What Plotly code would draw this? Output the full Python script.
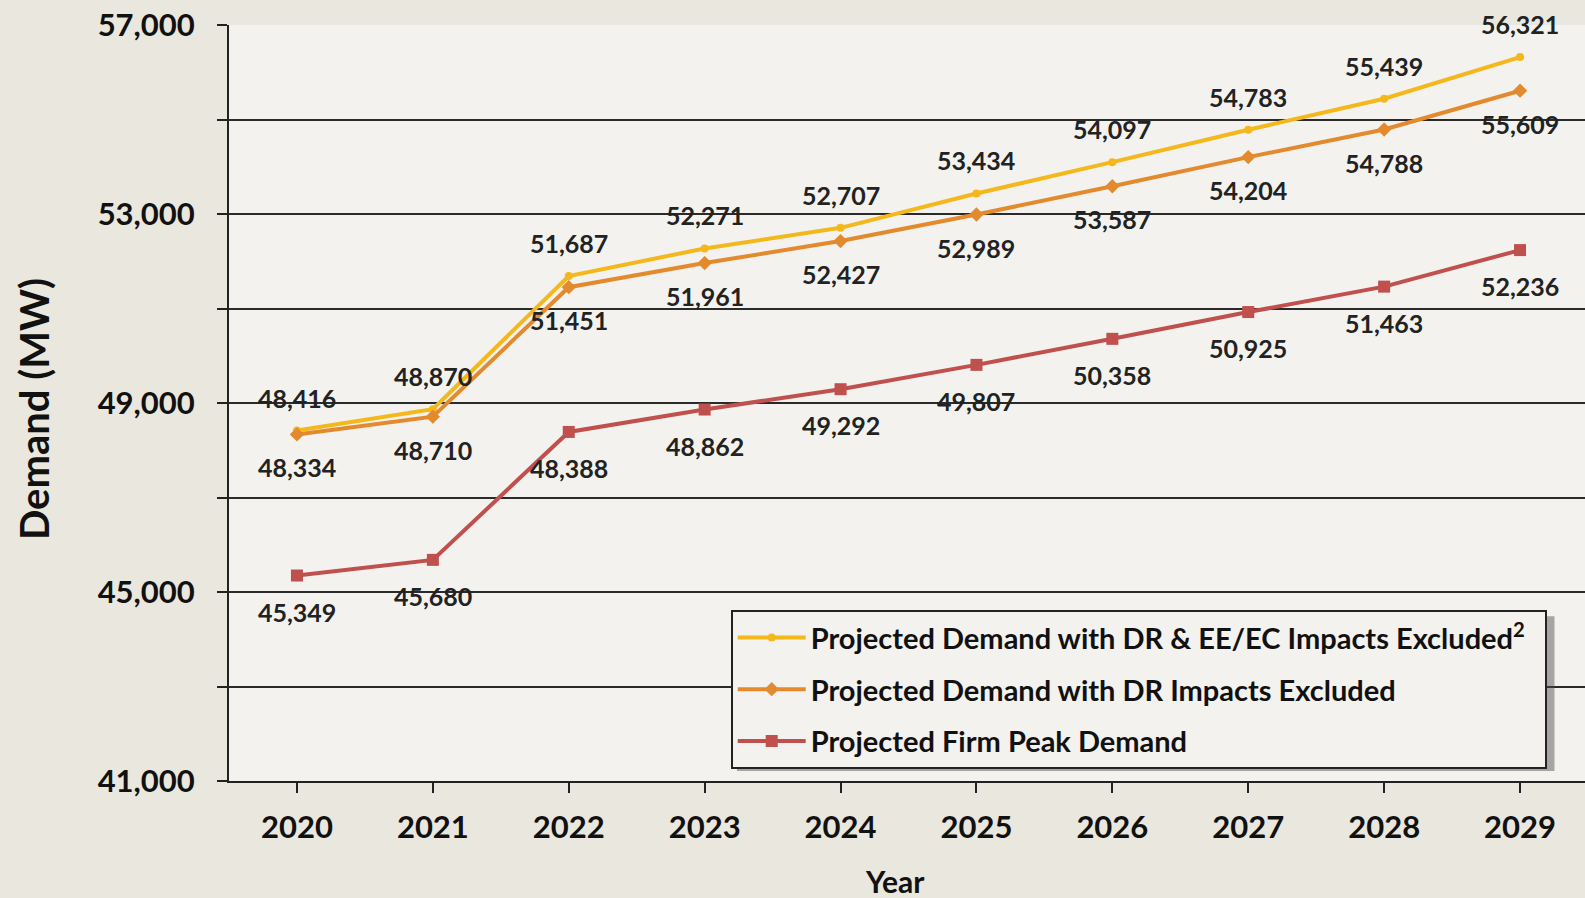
import plotly.graph_objects as go

years = ["2020", "2021", "2022", "2023", "2024", "2025", "2026", "2027", "2028", "2029"]
excl_dr_eeec = [48416, 48870, 51687, 52271, 52707, 53434, 54097, 54783, 55439, 56321]
excl_dr = [48334, 48710, 51451, 51961, 52427, 52989, 53587, 54204, 54788, 55609]
firm_peak = [45349, 45680, 48388, 48862, 49292, 49807, 50358, 50925, 51463, 52236]

names = [
    "Projected Demand with DR & EE/EC Impacts Excluded<sup>2</sup>&nbsp;&nbsp;",
    "Projected Demand with DR Impacts Excluded",
    "Projected Firm Peak Demand",
]
y_min, y_max = 41000, 57000

FONT = "Lato"
colors = ["#f4b81c", "#e38a2e", "#c0504d"]
symbols = ["circle", "diamond", "square"]
msize = [8, 11, 12]
label_shift = [33, -33, -36]

fig = go.Figure()
x_idx = list(range(len(years)))
for i, (vals, name, c, s, ms) in enumerate(zip([excl_dr_eeec, excl_dr, firm_peak], names, colors, symbols, msize)):
    fig.add_trace(go.Scatter(
        x=x_idx, y=vals, name=name, mode="lines+markers", legendgroup=f"g{i}",
        line=dict(color=c, width=4),
        marker=dict(color=c, symbol=s, size=ms),
    ))

annotations = []
for vals, sh in zip([excl_dr_eeec, excl_dr, firm_peak], label_shift):
    for xi, v in zip(x_idx, vals):
        annotations.append(dict(
            x=xi, y=v, xref="x", yref="y", text=f"{v:,}", showarrow=False,
            yshift=sh, font=dict(family=FONT, size=25, color="#222222", weight="bold"),
        ))
annotations.append(dict(
    x=0.491, y=-0.132, xref="paper", yref="paper", text="Year", showarrow=False,
    xanchor="center", yanchor="middle",
    font=dict(family=FONT, size=30, color="#111111", weight="bold"),
))
annotations.append(dict(
    x=-0.1438, y=0.492, xref="paper", yref="paper", text="Demand (MW)", showarrow=False,
    xanchor="center", yanchor="middle", textangle=-90,
    font=dict(family=FONT, size=40, color="#111111", weight="bold"),
))

fig.update_layout(
    width=1585, height=898,
    margin=dict(l=229, r=0, t=25, b=117),
    paper_bgcolor="#e9e7de",
    plot_bgcolor="#f3f2ee",
    font=dict(family=FONT, color="#1a1a1a"),
    showlegend=True,
    legend=dict(
        x=0.370, y=0.226, xanchor="left", yanchor="top",
        bgcolor="#f3f2ee", bordercolor="#222222", borderwidth=2,
        font=dict(family=FONT, size=29, color="#111111", weight="bold"),
        tracegroupgap=11, itemwidth=68,
    ),
    annotations=annotations,
    shapes=[dict(
        type="rect", xref="paper", yref="paper",
        x0=0.3746, x1=0.9775, y0=0.0132, y1=0.218,
        fillcolor="rgba(70,70,70,0.45)", line=dict(width=0), layer="above",
    )],
)
fig.update_xaxes(
    tickvals=x_idx, ticktext=years, range=[-0.5, 9.478],
    showgrid=False, showline=True, linecolor="#222222", linewidth=2,
    ticks="outside", ticklen=10, tickwidth=2, tickcolor="#222222",
    ticklabelstandoff=8,
    tickfont=dict(family=FONT, size=31, color="#111111", weight="bold"),
    zeroline=False,
)
fig.update_yaxes(
    range=[y_min, y_max], tick0=y_min, dtick=4000, tickformat=",d",
    showgrid=True, gridcolor="#2a2a2a", gridwidth=2,
    showline=True, linecolor="#222222", linewidth=2,
    ticks="outside", ticklen=10, tickwidth=2, tickcolor="#222222",
    ticklabelstandoff=16,
    tickfont=dict(family=FONT, size=31, color="#111111", weight="bold"),
    minor=dict(tick0=y_min, dtick=2000, showgrid=True, gridcolor="#2a2a2a", gridwidth=2,
               ticks="outside", ticklen=10, tickwidth=2, tickcolor="#222222"),
    zeroline=False,
)

fig.write_html(
    "out.html",
    config={"displayModeBar": False},
    post_script="document.body.style.margin='0';document.body.style.padding='0';",
)
